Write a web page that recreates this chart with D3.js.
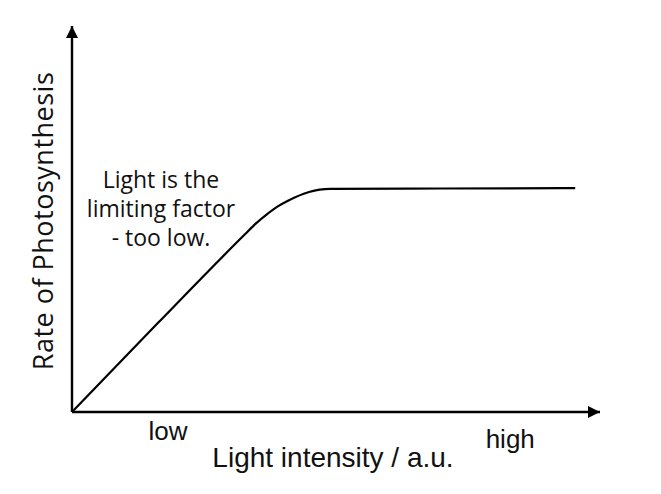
<!DOCTYPE html>
<html>
<head>
<meta charset="utf-8">
<script src="https://cdn.jsdelivr.net/npm/d3@7"></script>
<style>
  body { margin: 0; background: #fff; }
  text { fill: #111; }
</style>
</head>
<body>
<svg id="chart" width="661" height="494"></svg>
<script>
// Light intensity (a.u., 0-100) and rate of photosynthesis (0-100)
let lightIntensity = [0, 16.3, 32.8, 34.8, 36.9, 38.9, 41.0, 44.9, 46.9, 48.9, 70, 95.3];
let photoRate = [0, 23.1, 46.1, 48.8, 51.2, 53.2, 54.8, 57.0, 57.6, 57.8, 57.9, 58.0];

let tickLabels = ['low', 'high'];
let tickPositions = [18.2, 83];

let noteLines = ['Light is the', 'limiting factor', '- too low.'];

let svg = d3.select('#chart');

let x = d3.scaleLinear().domain([0, 100]).range([72, 600]);
let y = d3.scaleLinear().domain([0, 100]).range([412, 26]);

// Axes with arrowheads
let defs = svg.append('defs');
defs.append('marker')
    .attr('id', 'arrow')
    .attr('viewBox', '0 0 10 10')
    .attr('refX', 10)
    .attr('refY', 5)
    .attr('markerWidth', 5)
    .attr('markerHeight', 5)
    .attr('markerUnits', 'strokeWidth')
    .attr('orient', 'auto')
    .append('path')
    .attr('d', 'M0,0 L10,5 L0,10 Z')
    .attr('fill', '#000');

svg.append('line')
    .attr('x1', x(0)).attr('y1', y(0))
    .attr('x2', x(100)).attr('y2', y(0))
    .attr('stroke', '#000')
    .attr('stroke-width', 2.4)
    .attr('marker-end', 'url(#arrow)');

svg.append('line')
    .attr('x1', x(0)).attr('y1', y(0))
    .attr('x2', x(0)).attr('y2', y(100))
    .attr('stroke', '#000')
    .attr('stroke-width', 2.4)
    .attr('marker-end', 'url(#arrow)');

// Curve
let line = d3.line()
    .x((d, i) => x(lightIntensity[i]))
    .y((d, i) => y(photoRate[i]))
    .curve(d3.curveMonotoneX);

svg.append('path')
    .datum(lightIntensity)
    .attr('d', line)
    .attr('fill', 'none')
    .attr('stroke', '#000')
    .attr('stroke-width', 2.2);

// Tick labels
svg.selectAll('.tick-label')
    .data(tickLabels)
    .enter()
    .append('text')
    .attr('class', 'tick-label')
    .attr('x', (d, i) => x(tickPositions[i]))
    .attr('y', (d, i) => i === 0 ? 440 : 448)
    .attr('text-anchor', 'middle')
    .style('font-family', 'Liberation Sans, Arial, sans-serif')
    .style('font-size', '26px')
    .text(d => d);

// Axis titles
svg.append('text')
    .attr('x', 333)
    .attr('y', 467)
    .attr('text-anchor', 'middle')
    .style('font-family', 'Liberation Sans, Arial, sans-serif')
    .style('font-size', '28px')
    .text('Light intensity / a.u.');

svg.append('text')
    .attr('transform', 'translate(53,221) rotate(-90)')
    .attr('text-anchor', 'middle')
    .style('font-family', 'Open Sans, sans-serif')
    .style('font-size', '27px')
    .style('letter-spacing', '0.5px')
    .text('Rate of Photosynthesis');

// Annotation
svg.append('text')
    .attr('text-anchor', 'middle')
    .style('font-family', 'Open Sans, sans-serif')
    .style('font-size', '23px')
    .selectAll('tspan')
    .data(noteLines)
    .enter()
    .append('tspan')
    .attr('x', 161)
    .attr('y', (d, i) => 188 + i * 29)
    .text(d => d);
</script>
</body>
</html>
